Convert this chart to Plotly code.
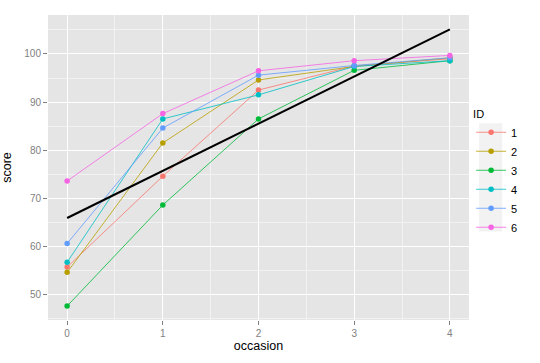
import plotly.graph_objects as go

occasion = [0, 1, 2, 3, 4]
ids = ["1", "2", "3", "4", "5", "6"]
scores = {
    "1": [55.7, 74.6, 92.5, 97.5, 99.0],
    "2": [54.6, 81.5, 94.6, 97.4, 99.2],
    "3": [47.6, 68.6, 86.5, 96.6, 98.6],
    "4": [56.7, 86.5, 91.5, 97.4, 98.6],
    "5": [60.6, 84.6, 95.6, 97.6, 99.2],
    "6": [73.6, 87.6, 96.5, 98.6, 99.7],
}
colors = ["#F8766D", "#B79F00", "#00BA38", "#00BFC4", "#619CFF", "#F564E3"]
fit_x = [0, 4]
fit_y = [65.9, 105.1]

FONT = "Liberation Sans, Arial"

fig = go.Figure()
for i, c in zip(ids, colors):
    fig.add_trace(go.Scatter(
        x=occasion, y=scores[i], mode="lines+markers", name=i,
        line=dict(color=c, width=0.8),
        marker=dict(color=c, size=5.5),
    ))
fig.add_trace(go.Scatter(
    x=fit_x, y=fit_y, mode="lines", showlegend=False,
    line=dict(color="black", width=2.1),
))

axis_common = dict(
    showgrid=True, gridcolor="white", gridwidth=1.1,
    zeroline=False, showline=False,
    ticks="outside", ticklen=4, tickcolor="#7f7f7f", tickwidth=1,
    tickfont=dict(family=FONT, size=10, color="#7f7f7f"),
    title_font=dict(family=FONT, size=12.5, color="black"),
)
fig.update_layout(
    width=540, height=363,
    margin=dict(l=48, r=71, t=15, b=43),
    paper_bgcolor="white", plot_bgcolor="#E5E5E5",
    xaxis=dict(range=[-0.2, 4.2], tickvals=[0, 1, 2, 3, 4], automargin=True,
               title=dict(text="occasion", standoff=1),
               minor=dict(showgrid=True, gridcolor="#F2F2F2", tickvals=[0.5, 1.5, 2.5, 3.5], ticks=""),
               **axis_common),
    yaxis=dict(range=[44.7, 108.1], tickvals=[50, 60, 70, 80, 90, 100], automargin=False,
               title=dict(text="score"),
               minor=dict(showgrid=True, gridcolor="#F2F2F2", tickvals=[45, 55, 65, 75, 85, 95, 105], ticks=""),
               **axis_common),
    legend=dict(
        x=1.005, y=0.71, xanchor="left", yanchor="top",
        title=dict(text="ID", font=dict(family=FONT, size=11, color="black")),
        font=dict(family=FONT, size=11, color="black"),
        bgcolor="rgba(0,0,0,0)", tracegroupgap=0, itemwidth=30,
    ),
    shapes=[dict(type="rect", xref="paper", yref="paper", x0=1.024, x1=1.079, y0=0.29, y1=0.645,
                 fillcolor="#F2F2F2", line=dict(width=0), layer="below")],
    showlegend=True,
)
fig.write_html("out.html", config={"displayModeBar": False},
               post_script="document.body.style.margin='0';document.body.style.overflow='hidden';")
